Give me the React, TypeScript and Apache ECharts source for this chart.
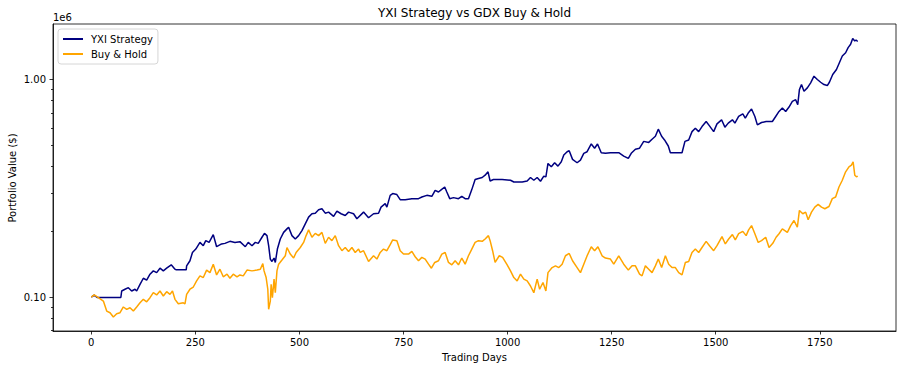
import React, { useEffect, useRef } from "react";
import * as echarts from "echarts";

// Trading-day positions and portfolio values ($)
const yxiDays = [
  0, 7, 14, 71, 73, 81, 89, 97, 105, 109, 117, 125, 133, 141, 149, 157, 165, 173, 181, 192,
  201, 204, 228, 229, 237, 243, 251, 261, 269, 275, 283, 293, 301, 313, 321, 333, 345, 357, 370, 377,
  386, 394, 401, 410, 416, 422, 426, 430, 434, 439, 442, 447, 454, 462, 470, 474, 482, 490, 498, 506,
  514, 522, 530, 538, 546, 554, 562, 570, 582, 590, 600, 610, 618, 630, 638, 654, 666, 678, 690, 696,
  706, 710, 718, 724, 734, 742, 754, 770, 786, 794, 806, 818, 826, 834, 841, 849, 854, 861, 870, 882,
  890, 898, 906, 914, 922, 930, 939, 946, 953, 958, 966, 978, 987, 1007, 1015, 1035, 1047, 1055, 1063, 1071,
  1079, 1087, 1092, 1097, 1105, 1113, 1121, 1129, 1135, 1143, 1148, 1156, 1167, 1175, 1183, 1191, 1201, 1209, 1216, 1225,
  1235, 1247, 1267, 1279, 1290, 1297, 1307, 1317, 1327, 1339, 1347, 1355, 1362, 1370, 1377, 1386, 1391, 1403, 1419, 1426,
  1435, 1443, 1451, 1459, 1467, 1477, 1485, 1495, 1503, 1514, 1522, 1530, 1540, 1546, 1555, 1565, 1571, 1579, 1586, 1594,
  1600, 1610, 1621, 1636, 1644, 1652, 1660, 1668, 1676, 1684, 1692, 1697, 1701, 1706, 1712, 1720, 1728, 1736, 1744, 1752,
  1760, 1768, 1773, 1781, 1790, 1797, 1804, 1812, 1818, 1824, 1829, 1834, 1837, 1841,
];
const yxiValues = [
  100000, 102000, 99500, 99500, 106600, 108600, 110400, 106600, 108600, 106600, 114300, 122000, 119500, 127400, 131900, 129500, 135700, 131900, 135700, 140600,
  134300, 133400, 133400, 139100, 146800, 160300, 166200, 178300, 172200, 181600, 178300, 193700, 170400, 175400, 176500, 180300, 178300, 179700, 170400, 178300,
  172200, 178300, 176500, 188300, 196200, 191600, 172200, 149500, 145700, 151100, 144200, 166200, 184900, 198300, 205800, 209400, 191600, 184900, 191600, 202100,
  217000, 233000, 241500, 243000, 252000, 254700, 243000, 245700, 234800, 248400, 241500, 237100, 245700, 241500, 229000, 245700, 231500, 241500, 243000, 259100,
  268600, 259100, 293400, 299000, 295800, 280300, 280300, 283300, 283300, 288200, 293400, 290400, 309500, 304000, 311800, 320500, 304000, 283300, 286400, 283300,
  290400, 283300, 283300, 311800, 347000, 350700, 354500, 363200, 376500, 341700, 347000, 347000, 347000, 344300, 338100, 338100, 341700, 354500, 344300, 354500,
  340600, 359400, 356900, 411500, 396800, 414400, 399800, 418700, 449500, 465700, 470600, 429400, 414400, 426200, 457800, 465700, 505500, 483300, 505500, 460800,
  457800, 460800, 460800, 444700, 433700, 457800, 478200, 483300, 519500, 514000, 531400, 548400, 591200, 548400, 527500, 494700, 460800, 460800, 460800, 519500,
  527500, 576000, 597400, 576000, 607800, 641200, 612400, 576000, 625600, 652800, 604000, 630300, 652800, 630300, 676300, 696000, 665000, 705700, 731600, 676300,
  618900, 634400, 641200, 641200, 676300, 713400, 739400, 713400, 747300, 793500, 808000, 766000, 898900, 948100, 882700, 915400, 965400, 1036000, 1000000, 971600,
  948100, 938100, 971600, 1055000, 1112000, 1195000, 1282000, 1328000, 1402000, 1452000, 1544000, 1504000, 1520000, 1495000,
];

const gdxDays = [
  0, 7, 17, 29, 37, 45, 53, 61, 69, 77, 85, 93, 101, 109, 117, 125, 133, 141, 149, 157,
  165, 173, 181, 189, 195, 201, 209, 221, 225, 229, 237, 245, 253, 261, 269, 277, 285, 293, 301, 309,
  317, 326, 333, 341, 350, 357, 365, 374, 386, 398, 406, 412, 415, 420, 424, 426, 430, 432, 435, 439,
  442, 446, 450, 458, 466, 470, 478, 486, 492, 502, 510, 516, 522, 530, 538, 546, 554, 562, 570, 578,
  586, 594, 602, 610, 618, 626, 634, 642, 646, 654, 666, 678, 686, 694, 702, 710, 718, 724, 734, 742,
  750, 762, 770, 778, 786, 794, 802, 810, 817, 825, 834, 842, 850, 858, 866, 874, 882, 890, 898, 906,
  914, 922, 930, 939, 946, 954, 958, 964, 970, 980, 988, 999, 1007, 1015, 1023, 1031, 1039, 1047, 1055, 1063,
  1071, 1077, 1085, 1092, 1097, 1107, 1115, 1123, 1131, 1139, 1148, 1156, 1167, 1175, 1183, 1191, 1201, 1209, 1217, 1227,
  1235, 1247, 1255, 1267, 1279, 1290, 1299, 1307, 1317, 1323, 1331, 1339, 1347, 1355, 1362, 1370, 1379, 1387, 1395, 1403,
  1411, 1419, 1427, 1435, 1443, 1451, 1459, 1467, 1477, 1485, 1495, 1503, 1515, 1523, 1531, 1540, 1547, 1555, 1565, 1573,
  1579, 1586, 1594, 1602, 1610, 1620, 1628, 1637, 1645, 1652, 1660, 1672, 1680, 1688, 1696, 1701, 1709, 1716, 1722, 1730,
  1738, 1746, 1754, 1762, 1772, 1780, 1788, 1796, 1804, 1812, 1820, 1826, 1830, 1834, 1838, 1841,
];
const gdxValues = [
  100000, 102200, 99300, 95800, 86200, 84700, 80900, 83800, 84700, 90000, 87800, 89300, 86200, 90000, 94100, 97600, 95100, 99300, 104700, 102200,
  106600, 101100, 105800, 102900, 106600, 97600, 93100, 94100, 93100, 102900, 108600, 111200, 118600, 125100, 122900, 133000, 129500, 141600, 126400, 134300,
  123900, 127400, 122000, 127400, 123900, 126400, 125100, 133000, 131900, 133000, 134300, 142600, 131900, 122900, 108600, 87800, 95800, 114300, 99300, 120800,
  104700, 131900, 141600, 148000, 154800, 168900, 157600, 151100, 160300, 168900, 178300, 191600, 203600, 188300, 196200, 191600, 198300, 176500, 188300, 181600,
  191600, 172200, 163300, 168900, 162100, 168900, 160300, 166200, 160300, 163300, 145700, 154800, 149500, 160300, 166200, 163300, 174000, 183000, 181600, 163300,
  157600, 157600, 162100, 153200, 146800, 152200, 149500, 141600, 135700, 144200, 146800, 157600, 160300, 144200, 140600, 146800, 140600, 151100, 141600, 154800,
  166200, 178300, 181600, 180300, 184900, 191600, 181600, 163300, 144200, 154800, 152200, 140600, 131900, 122900, 118600, 127400, 120800, 118600, 112400, 104700,
  120800, 108600, 116600, 106600, 129500, 136600, 139100, 136600, 141600, 154800, 158600, 146800, 136600, 129500, 141600, 154800, 170400, 163300, 170400, 154800,
  151100, 149500, 141600, 154800, 141600, 133000, 139100, 139100, 127400, 125100, 139100, 134300, 129500, 139100, 149500, 136600, 154800, 141600, 136600, 136600,
  129500, 126400, 144200, 145700, 160300, 166200, 160300, 168900, 180300, 172200, 163300, 172200, 189600, 175400, 184900, 193700, 183000, 195500, 200400, 191600,
  203600, 213100, 195500, 178300, 181600, 188300, 168900, 176500, 188300, 195500, 205800, 198300, 213100, 224800, 209400, 250100, 241500, 245700, 226500, 245700,
  259100, 266700, 259100, 254700, 260700, 283300, 288200, 320500, 344300, 376500, 396800, 404000, 418700, 363200, 357200, 360000,
];

const xTickValues = [0, 250, 500, 750, 1000, 1250, 1500, 1750];
const yMajorTicks = [100000, 1000000];
const yMinorTicks = [70000, 80000, 90000, 200000, 300000, 400000, 500000, 600000, 700000, 800000, 900000];

const FONT = "DejaVu Sans";

export default function App() {
  const ref = useRef<HTMLDivElement>(null);

  useEffect(() => {
    if (!ref.current) return;
    const chart = echarts.init(ref.current, undefined, { renderer: "svg" });
    const yMin = 69800;
    const yMax = 1800000;
    const axisLineStyle = { color: "#000", width: 0.8 };
    const option: any = {
      animation: false,
      backgroundColor: "#ffffff",
      textStyle: { fontFamily: FONT },
      grid: {
        left: 53,
        right: 8,
        top: 24,
        bottom: 41,
        show: true,
        borderColor: "#000",
        borderWidth: 0.8,
        backgroundColor: "transparent",
      },
      legend: {
        orient: "vertical",
        left: 58,
        top: 29,
        itemWidth: 20,
        itemHeight: 10,
        itemGap: 5,
        padding: [5, 5, 5, 4],
        borderColor: "#cccccc",
        borderWidth: 0.8,
        borderRadius: 3,
        backgroundColor: "rgba(255,255,255,0.8)",
        itemStyle: { opacity: 0 },
        textStyle: { fontSize: 10, color: "#000", fontFamily: FONT, lineHeight: 10, padding: [0, 0, 0, 3] },
        data: ["YXI Strategy", "Buy & Hold"],
      },
      xAxis: {
        type: "value",
        min: -92,
        max: 1933,
        axisLine: { show: true, onZero: false, lineStyle: axisLineStyle },
        axisTick: { show: true, customValues: xTickValues, length: 3.5, lineStyle: axisLineStyle },
        axisLabel: {
          customValues: xTickValues,
          color: "#000",
          fontSize: 10,
          fontFamily: FONT,
          margin: 6,
          formatter: (v: number) => String(v),
        },
        splitLine: { show: false },
      },
      yAxis: [
        {
          type: "log",
          logBase: 10,
          min: yMin,
          max: yMax,
          axisLine: { show: true, onZero: false, lineStyle: axisLineStyle },
          axisTick: { show: true, customValues: yMajorTicks, length: 3.5, lineStyle: axisLineStyle },
          axisLabel: {
            customValues: yMajorTicks,
            color: "#000",
            fontSize: 10,
            fontFamily: FONT,
            margin: 7,
            formatter: (v: number) => (v / 1e6).toFixed(2),
          },
          splitLine: { show: false },
          minorTick: { show: false },
        },
        {
          type: "log",
          logBase: 10,
          min: yMin,
          max: yMax,
          position: "left",
          offset: 0,
          axisLine: { show: false, onZero: false },
          axisTick: { show: true, customValues: yMinorTicks, length: 2, lineStyle: axisLineStyle },
          axisLabel: { show: false },
          splitLine: { show: false },
        },
      ],
      graphic: [
        {
          type: "text",
          x: 474.5,
          y: 12.8,
          style: {
            text: "YXI Strategy vs GDX Buy & Hold",
            fontSize: 12,
            fontFamily: FONT,
            fill: "#000",
            align: "center",
            verticalAlign: "middle",
          },
        },
        {
          type: "text",
          x: 53,
          y: 17.3,
          style: { text: "1e6", fontSize: 10, fontFamily: FONT, fill: "#000", align: "left", verticalAlign: "middle" },
        },
        {
          type: "text",
          x: 474.5,
          y: 357.5,
          style: { text: "Trading Days", fontSize: 10, fontFamily: FONT, fill: "#000", align: "center", verticalAlign: "middle" },
        },
        {
          type: "text",
          x: 12,
          y: 178,
          rotation: Math.PI / 2,
          style: {
            text: "Portfolio Value ($)",
            fontSize: 10,
            fontFamily: FONT,
            fill: "#000",
            align: "center",
            verticalAlign: "middle",
          },
        },
      ],
      series: [
        {
          name: "YXI Strategy",
          type: "line",
          xAxisIndex: 0,
          yAxisIndex: 0,
          symbol: "none",
          showSymbol: false,
          lineStyle: { color: "#000080", width: 1.5 },
          itemStyle: { color: "#000080" },
          data: yxiDays.map((d, i) => [d, yxiValues[i]]),
        },
        {
          name: "Buy & Hold",
          type: "line",
          xAxisIndex: 0,
          yAxisIndex: 0,
          symbol: "none",
          showSymbol: false,
          lineStyle: { color: "#FFA500", width: 1.5 },
          itemStyle: { color: "#FFA500" },
          data: gdxDays.map((d, i) => [d, gdxValues[i]]),
        },
      ],
    };
    chart.setOption(option);
    return () => chart.dispose();
  }, []);

  return (
    <div
      ref={ref}
      style={{ position: "fixed", left: 0, top: 0, width: 904, height: 372, background: "#fff" }}
    />
  );
}
